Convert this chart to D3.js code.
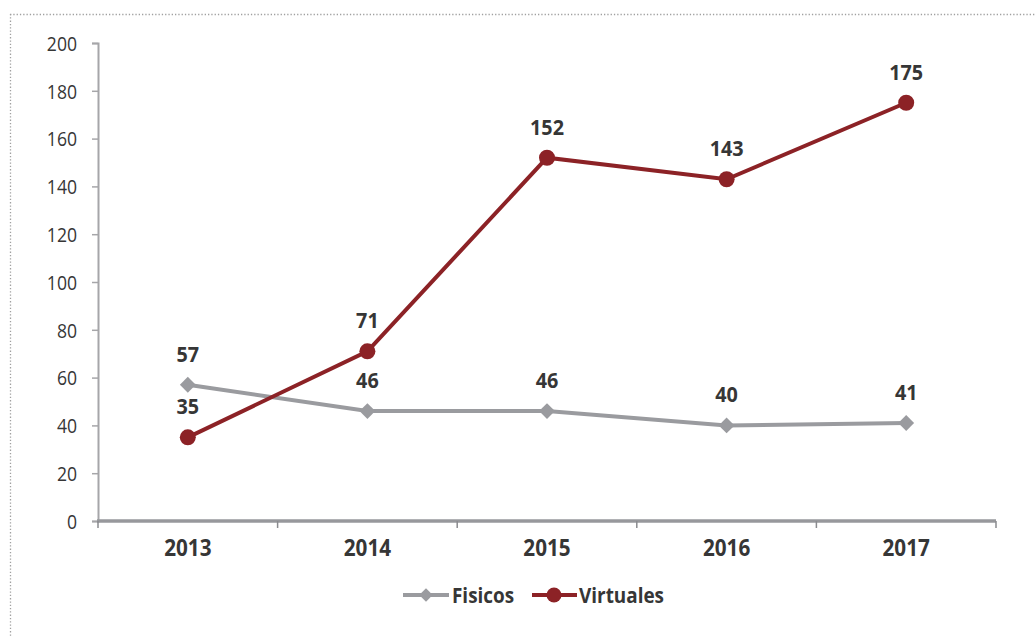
<!DOCTYPE html>
<html>
<head>
<meta charset="utf-8">
<script src="https://cdn.jsdelivr.net/npm/d3@7"></script>
<style>
  html, body { margin: 0; padding: 0; background: #fff; }
  svg { display: block; }
  text { font-family: "Open Sans", sans-serif; fill: #363636; }
</style>
</head>
<body>
<svg id="chart" width="1035" height="636"></svg>
<script>
const years = ["2013", "2014", "2015", "2016", "2017"];
const fisicos = [57, 46, 46, 40, 41];
const virtuales = [35, 71, 152, 143, 175];
const yTicks = [0, 20, 40, 60, 80, 100, 120, 140, 160, 180, 200];
const seriesNames = ["Fisicos", "Virtuales"];

(function () {
const W = 1035, H = 636;
const gray = "#9a9b9f", red = "#8c2226";
const svg = d3.select("#chart");

// dotted frame
svg.append("line").attr("x1", 10).attr("x2", W).attr("y1", 14.5).attr("y2", 14.5)
  .attr("stroke", "#a0a0a0").attr("stroke-width", 1.3).attr("stroke-dasharray", "1.3,2");
svg.append("line").attr("x1", 10.5).attr("x2", 10.5).attr("y1", 14).attr("y2", H)
  .attr("stroke", "#a0a0a0").attr("stroke-width", 1.3).attr("stroke-dasharray", "1.3,2");

const mLeft = 98, mRight = 996, mTop = 43, mBottom = 521;
const x = d3.scaleBand().domain(years).range([mLeft, mRight]).padding(0);
const y = d3.scaleLinear().domain([0, 200]).range([mBottom, mTop]);

// y axis
const yAxis = svg.append("g").attr("transform", `translate(${mLeft},0)`)
  .call(d3.axisLeft(y).tickValues(yTicks).tickSize(6).tickPadding(14));
yAxis.select(".domain").attr("stroke", "#a6a6a9").attr("stroke-width", 2);
yAxis.selectAll(".tick line").attr("stroke", "#a6a6a9").attr("stroke-width", 1.5);
yAxis.selectAll("text").attr("x", 0).attr("dy", "0.36em")
  .attr("transform", "translate(-21,0) scale(0.88,1)")
  .attr("font-size", 20).attr("fill", "#333").style("font-family", "'Open Sans', sans-serif");

// x axis
const xAxis = svg.append("g").attr("transform", `translate(0,${mBottom})`)
  .call(d3.axisBottom(x).tickSize(0).tickPadding(0));
xAxis.select(".domain").remove();
xAxis.selectAll("text").attr("y", 0).attr("dy", 0)
  .attr("transform", "translate(0,35) scale(0.9,1)")
  .attr("font-size", 23).attr("font-weight", "bold").attr("fill", "#333")
  .style("font-family", "'Open Sans', sans-serif");
svg.append("line").attr("x1", mLeft - 1).attr("x2", mRight).attr("y1", mBottom).attr("y2", mBottom)
  .attr("stroke", "#97989c").attr("stroke-width", 3.5);
const bounds = years.map(d => x(d)).concat([x(years[years.length - 1]) + x.bandwidth()]);
svg.selectAll(".xtick").data(bounds).enter().append("line")
  .attr("x1", d => d).attr("x2", d => d).attr("y1", mBottom).attr("y2", mBottom + 7)
  .attr("stroke", "#8a8b8f").attr("stroke-width", 1.5);

const cx = d => x(d) + x.bandwidth() / 2;
const line = d3.line().x(d => cx(d.year)).y(d => y(d.v));

const fData = years.map((yr, i) => ({ year: yr, v: fisicos[i] }));
const vData = years.map((yr, i) => ({ year: yr, v: virtuales[i] }));

svg.append("path").datum(fData).attr("d", line).attr("fill", "none")
  .attr("stroke", gray).attr("stroke-width", 4);
svg.selectAll(".fpt").data(fData).enter().append("path")
  .attr("d", d3.symbol().type(d3.symbolSquare).size(125))
  .attr("transform", d => `translate(${cx(d.year)},${y(d.v)}) rotate(45)`)
  .attr("fill", gray);

svg.append("path").datum(vData).attr("d", line).attr("fill", "none")
  .attr("stroke", red).attr("stroke-width", 4);
svg.selectAll(".vpt").data(vData).enter().append("circle")
  .attr("cx", d => cx(d.year)).attr("cy", d => y(d.v)).attr("r", 8)
  .attr("fill", red);

// data labels
const lbl = (data) => svg.selectAll(null).data(data).enter().append("text")
  .attr("transform", d => `translate(${cx(d.year)},${y(d.v) - 23}) scale(0.9,1)`)
  .attr("text-anchor", "middle").attr("font-size", 22).attr("font-weight", "bold")
  .attr("fill", "#363636").text(d => d.v);
lbl(fData);
lbl(vData);

// legend
const lg = svg.append("g").attr("transform", "translate(0,595)");
lg.append("line").attr("x1", 403).attr("x2", 449).attr("y1", 0).attr("y2", 0).attr("stroke", gray).attr("stroke-width", 4);
lg.append("path").attr("d", d3.symbol().type(d3.symbolSquare).size(90)).attr("transform", "translate(426,0) rotate(45)").attr("fill", gray);
lg.append("text").attr("transform", "translate(452,8) scale(0.86,1)").attr("font-size", 22).attr("font-weight", "bold").text(seriesNames[0]);
lg.append("line").attr("x1", 532).attr("x2", 577).attr("y1", 0).attr("y2", 0).attr("stroke", red).attr("stroke-width", 4);
lg.append("circle").attr("cx", 554).attr("cy", 0).attr("r", 7.5).attr("fill", red);
lg.append("text").attr("transform", "translate(579,8) scale(0.86,1)").attr("font-size", 22).attr("font-weight", "bold").text(seriesNames[1]);
})();
</script>
</body>
</html>
